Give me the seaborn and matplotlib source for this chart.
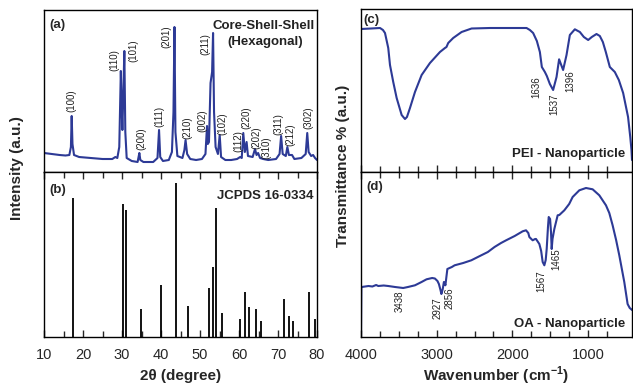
import numpy as np
import pandas as pd
import matplotlib
matplotlib.use("Agg")
import matplotlib.pyplot as plt
import seaborn as sns

# ---------------- DATA ----------------
# (a) XRD pattern, core-shell-shell (2theta, intensity a.u.)
xrd_2theta = [10.0, 12.0, 14.0, 15.5, 16.5, 16.9, 17.1, 17.3, 17.7, 19.0, 22.0, 25.0, 27.5,
              28.3, 28.8, 29.3, 29.7, 29.95, 30.1, 30.35, 30.6, 30.85, 31.2, 32.5, 34.0,
              34.3, 34.45, 34.7, 35.5, 38.0, 39.1, 39.5, 39.8, 40.5, 42.0, 42.8, 43.2,
              43.45, 43.7, 44.2, 45.5, 46.0, 46.3, 46.7, 47.5, 49.0, 50.5, 51.4, 51.8,
              52.0, 52.3, 52.7, 53.1, 53.35, 53.6, 54.0, 54.6, 55.05, 55.4, 56.5, 58.0,
              59.5, 60.3, 60.7, 61.1, 61.5, 61.95, 62.3, 63.5, 64.1, 64.5, 64.9, 65.4,
              66.2, 67.5, 69.5, 70.4, 70.8, 71.2, 72.0, 72.4, 72.8, 73.6, 74.2, 76.0,
              77.1, 77.5, 77.85, 78.5, 79.0, 79.5, 80.0]
xrd_intensity = [19, 18, 17, 16.5, 17, 25, 56, 28, 17, 15, 14, 13, 13,
                 15, 14, 25, 101, 60, 42, 80, 121, 40, 14, 11, 10,
                 16, 19, 12, 10, 10, 14, 42, 15, 11, 12, 20, 60,
                 145, 40, 16, 14, 22, 32, 18, 13, 12, 13, 18, 46,
                 28, 30, 89, 100, 139, 60, 25, 18, 37, 15, 12, 12,
                 13, 15, 14, 39, 20, 30, 16, 15, 23, 17, 19, 14,
                 13, 12, 13, 18, 36, 18, 16, 25, 17, 17, 13, 14,
                 18, 39, 20, 16, 17, 14, 12]

hkl_labels = ["(100)", "(110)", "(101)", "(200)", "(111)", "(201)", "(210)", "(002)", "(211)",
              "(102)", "(112)", "(220)", "(202)", "(310)", "(311)", "(212)", "(302)"]

# (b) JCPDS 16-0334 reference lines
jcpds_2theta = [17.35, 30.2, 30.9, 34.95, 40.0, 43.8, 46.9, 52.2, 53.4, 54.2, 55.6,
                60.3, 61.5, 62.6, 64.4, 65.6, 71.6, 72.8, 73.9, 78.0, 79.6]
jcpds_intensity = [139, 133, 127, 28, 52, 154, 31, 49, 70, 129, 24,
                   18, 45, 30, 28, 16, 38, 21, 16, 45, 18]

# (c) FTIR, PEI - nanoparticle (wavenumber, transmittance a.u.)
pei_wn = [4000, 3868, 3749, 3710, 3683, 3640, 3617, 3574, 3529, 3463, 3419, 3393, 3353,
          3287, 3199, 3089, 2957, 2891, 2871, 2848, 2782, 2671, 2539, 2297, 1967, 1813,
          1769, 1726, 1677, 1637, 1611, 1571, 1545, 1505, 1462, 1417, 1383, 1360, 1330,
          1285, 1241, 1175, 1109, 1056, 999, 951, 889, 845, 805, 766, 713, 647, 594,
          537, 472, 443, 427, 420]
pei_t = [143, 143.5, 144, 142, 139, 124, 107, 90, 74, 57, 53, 55, 64,
         80, 97, 109, 120, 124, 125, 129, 134, 140, 143.5, 144, 144, 144,
         142, 139, 131, 120, 105, 100, 96, 88, 82, 95, 112.7, 108, 102,
         117, 137, 142.7, 140, 135, 132, 135, 138, 136, 130, 120, 105, 100, 92,
         79, 55, 35, 22, 12]
pei_peaks = ["1636", "1537", "1396"]

# (d) FTIR, OA - nanoparticle
oa_wn = [4000, 3995, 3991, 3900, 3850, 3800, 3772, 3700, 3640, 3550, 3443, 3380, 3287,
         3200, 3134, 3060, 3024, 2990, 2971, 2950, 2938, 2920, 2905, 2895, 2885, 2872,
         2859, 2800, 2763, 2650, 2543, 2430, 2324, 2236, 2150, 2083, 1970, 1864, 1820,
         1790, 1776, 1750, 1732, 1700, 1688, 1644, 1620, 1600, 1578, 1560, 1547, 1530,
         1520, 1502, 1490, 1481, 1470, 1446, 1402, 1380, 1314, 1250, 1204, 1116, 1028,
         940, 852, 764, 720, 676, 630, 588, 522, 478, 450, 434, 420]
oa_t = [0, 50, 50, 51, 50.5, 52, 51, 51.5, 51, 50, 49, 50, 51.7,
        55, 57.7, 59, 58.5, 56, 53, 47, 43, 48, 55, 54, 51.7, 60,
        68, 70, 71.7, 74, 76.7, 81, 85, 90, 94, 96.7, 101, 105.7, 106.7,
        104, 100, 98, 96.7, 98, 98, 93, 86, 75, 71.7, 77, 88, 110,
        120, 118, 105, 88, 98, 108, 121.7, 122, 126.7, 133, 140, 146.7, 149,
        147.7, 141.7, 131.7, 124, 111.7, 97, 81.7, 55, 33, 29, 28, 27]
oa_peaks = ["3438", "2927", "2856", "1567", "1465"]

# ---------------- STYLE ----------------
sns.set_style("ticks")
plt.rcParams["font.family"] = ["Liberation Sans", "DejaVu Sans"]
plt.rcParams["mathtext.fontset"] = "custom"
plt.rcParams["mathtext.rm"] = "Liberation Sans"
plt.rcParams["mathtext.bf"] = "Liberation Sans:bold"

LINE = "#2d3a96"
TXT = "#222222"
W, H = 633, 389

fig = plt.figure(figsize=(6.33, 3.89), dpi=100)

def ax_px(x0, y0, x1, y1):
    return fig.add_axes([x0 / W, 1 - y1 / H, (x1 - x0) / W, (y1 - y0) / H])

axA = ax_px(44, 10, 317, 172)
axB = ax_px(44, 172, 317, 337)
axC = ax_px(361, 9, 632, 172)
axD = ax_px(361, 172, 632, 337)

for ax in (axA, axB, axC, axD):
    for s in ax.spines.values():
        s.set_linewidth(1.0)
        s.set_color("black")
        s.set_visible(True)
    ax.set_yticks([])
    ax.set_ylabel("")
    ax.set_xlabel("")

# (a)
dfA = pd.DataFrame({"x": xrd_2theta, "y": xrd_intensity})
sns.lineplot(data=dfA, x="x", y="y", ax=axA, color=LINE, lw=1.5, estimator=None, sort=False)
axA.set_xlim(10, 80)
axA.set_ylim(0, 162)
axA.set_xticks([])
axA.set_xlabel("")
axA.set_ylabel("")
hkl_pos = [(17.1, 71), (28.0, 111.5), (32.9, 121), (35.05, 33), (39.5, 56), (41.5, 135),
           (46.7, 44), (50.7, 51), (51.3, 128), (55.8, 48), (59.8, 31), (62.0, 54.5),
           (64.5, 34), (67.1, 24.5), (70.1, 48), (73.1, 37), (77.8, 54.3)]
for lab, (x, y) in zip(hkl_labels, hkl_pos):
    axA.text(x, y, lab, rotation=90, ha="center", va="center", fontsize=7, color=TXT)
axA.text(0.02, 0.905, "(a)", transform=axA.transAxes, fontsize=9.5, fontweight="bold",
         ha="left", va="center")
axA.text(0.993, 0.9, "Core-Shell-Shell", transform=axA.transAxes, fontsize=9.5,
         fontweight="bold", ha="right", va="center", color=TXT)
axA.text(0.81, 0.8, "(Hexagonal)", transform=axA.transAxes, fontsize=9.5,
         fontweight="bold", ha="center", va="center", color=TXT)

# (b)
axB.vlines(jcpds_2theta, 0, jcpds_intensity, color="black", lw=1.3)
axB.set_xlim(10, 80)
axB.set_ylim(0, 165)
axB.set_xticks(np.arange(10, 81, 10))
axB.set_xticks(np.arange(15, 80, 10), minor=True)
axB.tick_params(axis="x", which="both", direction="in", top=True, bottom=True,
                labelsize=10.5, pad=8, width=1)
axB.tick_params(axis="x", which="major", length=5)
axB.tick_params(axis="x", which="minor", length=4)
axB.set_xlabel("2θ (degree)", fontsize=11, fontweight="bold", labelpad=5)
axB.text(0.02, 0.89, "(b)", transform=axB.transAxes, fontsize=9.5, fontweight="bold",
         ha="left", va="center")
axB.text(0.986, 0.855, "JCPDS 16-0334", transform=axB.transAxes, fontsize=9.5,
         fontweight="bold", ha="right", va="center", color=TXT)

# (c)
dfC = pd.DataFrame({"x": pei_wn, "y": pei_t})
sns.lineplot(data=dfC, x="x", y="y", ax=axC, color=LINE, lw=1.5, estimator=None, sort=False)
axC.set_xlim(4000, 420)
axC.set_ylim(0, 163)
axC.set_xticks(np.arange(1000, 4001, 1000))
axC.set_xticks(np.arange(750, 4000, 250), minor=True)
axC.tick_params(axis="x", which="both", direction="in", top=False, bottom=True,
                labelbottom=False, width=1)
axC.tick_params(axis="x", which="major", length=5)
axC.tick_params(axis="x", which="minor", length=4)
axC.set_xlabel("")
axC.set_ylabel("")
pei_pos = [(1681, 85), (1452, 68), (1241, 91)]
for lab, (x, y) in zip(pei_peaks, pei_pos):
    axC.text(x, y, lab, rotation=90, ha="center", va="center", fontsize=7, color=TXT)
axC.text(0.01, 0.93, "(c)", transform=axC.transAxes, fontsize=9.5, fontweight="bold",
         ha="left", va="center")
axC.text(0.974, 0.11, "PEI - Nanoparticle", transform=axC.transAxes, fontsize=9.5,
         fontweight="bold", ha="right", va="center", color=TXT)

# (d)
dfD = pd.DataFrame({"x": oa_wn, "y": oa_t})
sns.lineplot(data=dfD, x="x", y="y", ax=axD, color=LINE, lw=1.5, estimator=None, sort=False)
axD.set_xlim(4000, 420)
axD.set_ylim(0, 165)
axD.set_xticks(np.arange(1000, 4001, 1000))
axD.set_xticks(np.arange(750, 4000, 250), minor=True)
axD.tick_params(axis="x", which="both", direction="in", top=True, bottom=True,
                labelsize=10.5, pad=8, width=1)
axD.tick_params(axis="x", which="major", length=5)
axD.tick_params(axis="x", which="minor", length=4)
axD.set_xlabel(r"Wavenumber (cm$^{\mathbf{-1}}$)", fontsize=11, fontweight="bold", labelpad=2)
axD.set_ylabel("")
oa_pos = [(3485, 36), (2988, 29), (2825, 39), (1615, 56), (1417, 77.5)]
for lab, (x, y) in zip(oa_peaks, oa_pos):
    axD.text(x, y, lab, rotation=90, ha="center", va="center", fontsize=7, color=TXT)
axD.text(0.02, 0.91, "(d)", transform=axD.transAxes, fontsize=9.5, fontweight="bold",
         ha="left", va="center")
axD.text(0.974, 0.079, "OA - Nanoparticle", transform=axD.transAxes, fontsize=9.5,
         fontweight="bold", ha="right", va="center", color=TXT)

fig.text(17 / W, 1 - 168 / H, "Intensity (a.u.)", rotation=90, ha="center", va="center",
         fontsize=11, fontweight="bold")
fig.text(343 / W, 1 - 166 / H, "Transmittance % (a.u.)", rotation=90, ha="center",
         va="center", fontsize=11, fontweight="bold")

fig.savefig("out.png", dpi=100)
